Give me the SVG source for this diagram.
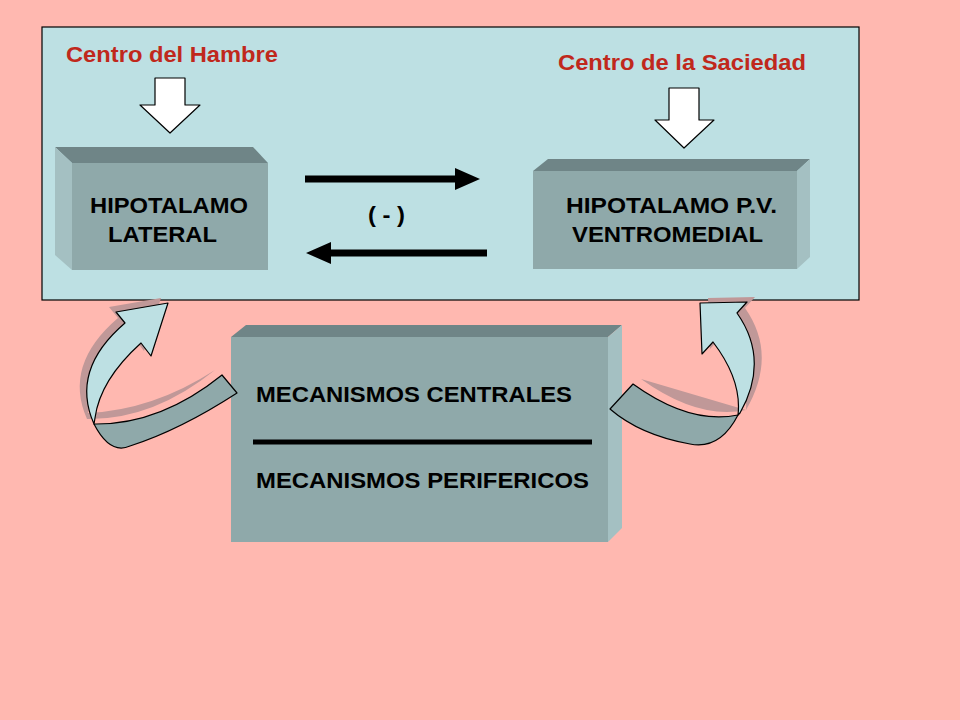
<svg xmlns="http://www.w3.org/2000/svg" width="960" height="720" viewBox="0 0 960 720">
<style>
text{font-family:"Liberation Sans",Arial,sans-serif;font-weight:bold;font-size:22px;fill:#000}
.red{fill:#c0281c}
.front{fill:#8fa9aa}.top{fill:#6f8587}.side{fill:#a4c0c2}
.ol{stroke:#000;stroke-width:1.2;stroke-linejoin:round}
.sh{fill:#c09898}
</style>
<rect width="960" height="720" fill="#ffb8b0"/>
<rect x="42" y="27" width="817" height="273" fill="#bde0e3" stroke="#000" stroke-width="1.2"/>
<g id="centro-hambre">
<text class="red" x="66" y="62" textLength="212" lengthAdjust="spacingAndGlyphs">Centro del Hambre</text>
<path class="ol" fill="#fff" d="M155,78H185V105H200L170,133L140,105H155Z"/>
</g>
<g id="centro-saciedad">
<text class="red" x="558" y="70" textLength="248" lengthAdjust="spacingAndGlyphs">Centro de la Saciedad</text>
<path class="ol" fill="#fff" d="M669,88H699V120H714L684,148L655,120H669Z"/>
</g>
<g id="hipotalamo-lateral">
<path class="top" d="M55,147H253L268,163H72Z"/>
<path class="side" d="M55,147L72,163V270L55,255Z"/>
<rect class="front" x="72" y="163" width="196" height="107"/>
<text x="90" y="213" textLength="158" lengthAdjust="spacingAndGlyphs">HIPOTALAMO</text>
<text x="108" y="242" textLength="109" lengthAdjust="spacingAndGlyphs">LATERAL</text>
</g>
<g id="hipotalamo-vm">
<path class="top" d="M533,171L548,159H810L797,171Z"/>
<path class="side" d="M797,171L810,159V257L797,269Z"/>
<rect class="front" x="533" y="171" width="264" height="98"/>
<text x="566" y="213" textLength="211" lengthAdjust="spacingAndGlyphs">HIPOTALAMO P.V.</text>
<text x="572" y="242" textLength="191" lengthAdjust="spacingAndGlyphs">VENTROMEDIAL</text>
</g>
<g id="mecanismos">
<path class="top" d="M231,337L246,325H622L608,337Z"/>
<path class="side" d="M608,337L622,325V528L608,542Z"/>
<rect class="front" x="231" y="337" width="377" height="205"/>
<text x="256" y="402" textLength="316" lengthAdjust="spacingAndGlyphs">MECANISMOS CENTRALES</text>
<rect x="253" y="439.5" width="339" height="5" fill="#000"/>
<text x="256" y="488" textLength="333" lengthAdjust="spacingAndGlyphs">MECANISMOS PERIFERICOS</text>
</g>
<g id="connectors">
<text x="368" y="222" textLength="37" lengthAdjust="spacingAndGlyphs">( - )</text>
<path d="M305,175.5H455V168L480,179L455,190V182.5H305Z" fill="#000"/>
<path d="M487,249.5H331V242L306,253L331,264V256.5H487Z" fill="#000"/>
<g transform="translate(-7,-5)">
<path class="sh" d="M222,375Q160,425 94,424Q70,370 125,323L116,312L168,303L151,356L141,343Q100,380 95,418Q160,415 222,375Z"/>
</g>
<path class="ol" fill="#8fa9aa" d="M222,375Q160,425 94,424Q110,455 130,446Q180,430 237,393Z"/>
<path class="ol" fill="#bde0e3" d="M94,424Q70,370 125,323L116,312L168,303L151,356L141,343Q100,380 95,418Z"/>
<g transform="translate(8,-5)">
<path class="sh" d="M633,384Q690,425 738,415Q770,360 737,313L747,302L700,303L702,354L713,342Q740,380 738,415Z"/>
</g>
<path class="ol" fill="#8fa9aa" d="M633,384Q690,425 738,415Q720,450 690,444Q640,435 610,409Z"/>
<path class="ol" fill="#bde0e3" d="M740,413Q770,360 737,313L747,302L700,303L702,354L713,342Q742,380 738,415Z"/>
</g>
</svg>
